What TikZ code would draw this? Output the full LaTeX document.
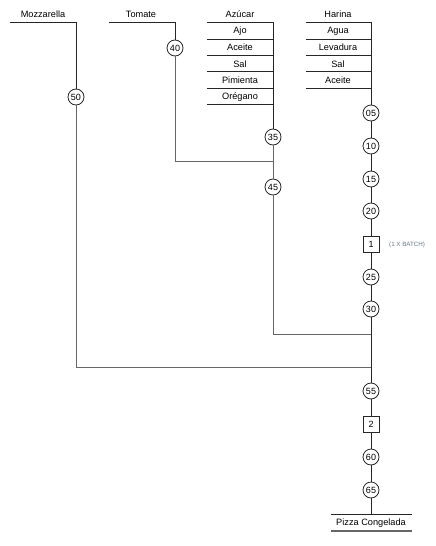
\documentclass[tikz,border=0pt]{standalone}
\usepackage{fontspec}
\setmainfont{Liberation Sans}
\definecolor{batchcol}{HTML}{6A7686}
\begin{document}
\begin{tikzpicture}[x=1pt,y=-1pt,
  ln/.style={draw=black!85, line width=0.8pt},
  lng/.style={draw=black!60, line width=1pt},
  op/.style={circle, draw=black!85, line width=0.8pt, minimum size=16pt, inner sep=0pt, font=\fontsize{9}{10}\selectfont},
  insp/.style={rectangle, draw=black!85, line width=0.8pt, minimum size=16pt, inner sep=0pt, font=\fontsize{9}{10}\selectfont},
  lbl/.style={inner sep=0pt, font=\fontsize{9.2}{10}\selectfont},
  note/.style={inner sep=0pt, anchor=west, text=batchcol, font=\fontsize{6.2}{7}\selectfont}]
\useasboundingbox (0,0) rectangle (436,546);

% ---- Mozzarella ----
\node[lbl] (moz) at (43,14) {Mozzarella};
\coordinate (mozL) at (10,22);
\coordinate (mozC) at (76,22);
\node[op] (o50) at (76,97) {50};
\coordinate (mozB) at (76,367);
\coordinate (j50) at (371,367);

% ---- Tomate ----
\node[lbl] (tom) at (141,14) {Tomate};
\coordinate (tomL) at (109,22);
\coordinate (tomC) at (175,22);
\node[op] (o40) at (175,48) {40};
\coordinate (tomB) at (175,161);
\coordinate (j40) at (273,161);

% ---- Azucar column ----
\node[lbl] (azu) at (240,14) {Azúcar};
\coordinate (azL1) at (207,22);  \coordinate (azR1) at (273,22);
\node[lbl] (ajo) at (240,31) {Ajo};
\coordinate (azL2) at (207,39);  \coordinate (azR2) at (273,39);
\node[lbl] (ace1) at (240,47) {Aceite};
\coordinate (azL3) at (207,55);  \coordinate (azR3) at (273,55);
\node[lbl] (sal1) at (240,64) {Sal};
\coordinate (azL4) at (207,71);  \coordinate (azR4) at (273,71);
\node[lbl] (pim) at (240,80) {Pimienta};
\coordinate (azL5) at (207,88);  \coordinate (azR5) at (273,88);
\node[lbl] (ore) at (240,97) {Orégano};
\coordinate (azL6) at (207,104); \coordinate (azR6) at (273,104);
\node[op] (o35) at (273,137) {35};
\node[op] (o45) at (273,187) {45};
\coordinate (azB) at (273,334);
\coordinate (j45) at (371,334);

% ---- Harina column ----
\node[lbl] (har) at (338,14) {Harina};
\coordinate (haL1) at (306,22);  \coordinate (haR1) at (371,22);
\node[lbl] (agu) at (338,31) {Agua};
\coordinate (haL2) at (306,39);  \coordinate (haR2) at (371,39);
\node[lbl] (lev) at (338,47) {Levadura};
\coordinate (haL3) at (306,55);  \coordinate (haR3) at (371,55);
\node[lbl] (sal2) at (338,64) {Sal};
\coordinate (haL4) at (306,71);  \coordinate (haR4) at (371,71);
\node[lbl] (ace2) at (338,80) {Aceite};
\coordinate (haL5) at (306,88);  \coordinate (haR5) at (371,88);

% ---- main line ----
\node[op] (o05) at (371,113) {05};
\node[op] (o10) at (371,146) {10};
\node[op] (o15) at (371,179) {15};
\node[op] (o20) at (371,211) {20};
\node[insp] (i1) at (371,244) {1};
\node[note] (batch) at (389,245) {(1 X BATCH)};
\node[op] (o25) at (371,277) {25};
\node[op] (o30) at (371,309) {30};
\node[op] (o55) at (371,391) {55};
\node[insp] (i2) at (371,424) {2};
\node[op] (o60) at (371,457) {60};
\node[op] (o65) at (371,490) {65};
\coordinate (pzT) at (371,514);
\coordinate (pzL) at (331,514);
\coordinate (pzR) at (412,514);
\node[lbl] (pizza) at (371,523) {Pizza Congelada};
\coordinate (pzL2) at (331,531);
\coordinate (pzR2) at (412,531);

% ---- connectors ----
\draw[ln] (mozL) -- (mozC) -- (o50);
\draw[lng] (o50) -- (mozB) -- (j50);
\draw[ln] (tomL) -- (tomC) -- (o40);
\draw[lng] (o40) -- (tomB) -- (j40);
\foreach \i in {1,...,6} {\draw[ln] (azL\i) -- (azR\i);}
\draw[ln] (azR1) -- (o35);
\draw[lng] (o35) -- (o45);
\draw[lng] (o45) -- (azB) -- (j45);
\foreach \i in {1,...,5} {\draw[ln] (haL\i) -- (haR\i);}
\draw[ln] (haR1) -- (o05) -- (o10) -- (o15) -- (o20) -- (i1) -- (o25) -- (o30) -- (o55) -- (i2) -- (o60) -- (o65) -- (pzT);
\draw[ln] (pzL) -- (pzR);
\draw[lng, line width=1.3pt] (pzL2) -- (pzR2);
\end{tikzpicture}
\end{document}
